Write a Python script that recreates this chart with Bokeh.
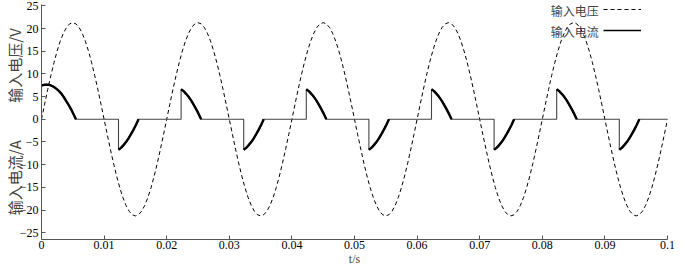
import math
from bokeh.plotting import figure
from bokeh.models import Range1d, FixedTicker, Label, Legend, LegendItem
from bokeh.embed import file_html
from bokeh.resources import INLINE

# ---------------- data ----------------
# input voltage: one period (0.02 s) sampled every 0.5 ms, repeated for 5 periods
volt_step = 0.0005
volt_cycle = [0, 3.33, 6.58, 9.67, 12.52, 15.06, 17.23, 18.98, 20.26, 21.04,
              21.3, 21.04, 20.26, 18.98, 17.23, 15.06, 12.52, 9.67, 6.58, 3.33,
              0, -3.33, -6.58, -9.67, -12.52, -15.06, -17.23, -18.98, -20.26, -21.04,
              -21.3, -21.04, -20.26, -18.98, -17.23, -15.06, -12.52, -9.67, -6.58, -3.33]
n_cycles = 5

# input current: first pulse (starts at t=0)
first_pulse_t = [0, 0, 0.0004, 0.0008, 0.0012, 0.0016, 0.002, 0.0024, 0.0028,
                 0.0032, 0.0036, 0.004, 0.0044, 0.0048, 0.0052, 0.0055]
first_pulse_i = [0, 7.45, 7.6, 7.65, 7.6, 7.4, 7.1, 6.7, 6.2,
                 5.6, 4.8, 3.9, 3.0, 2.0, 0.9, 0]
# following pulses: start time, peak value, and common decay shape
pulse_start = [0.0123, 0.0223, 0.0323, 0.0423, 0.0523, 0.0623, 0.0723, 0.0823, 0.0923]
pulse_peak = [-6.7, 6.6, -6.7, 6.6, -6.7, 6.6, -6.7, 6.6, -6.7]
pulse_dt = [0, 0.0004, 0.0008, 0.0012, 0.0016, 0.002, 0.0024, 0.0028, 0.0032]
pulse_frac = [1.0, 0.94, 0.85, 0.75, 0.63, 0.49, 0.34, 0.18, 0.0]
t_end = 0.1

x_ticks = [0, 0.01, 0.02, 0.03, 0.04, 0.05, 0.06, 0.07, 0.08, 0.09, 0.1]
x_tick_labels = ["0", "0.01", "0.02", "0.03", "0.04", "0.05", "0.06", "0.07", "0.08", "0.09", "0.1"]
y_ticks = [-25, -20, -15, -10, -5, 0, 5, 10, 15, 20, 25]
y_tick_labels = ["\u221225", "\u221220", "\u221215", "\u221210", "\u22125", "0", "5", "10", "15", "20", "25"]

legend_labels = ["输入电压", "输入电流"]
y_label_top = "输入电压/V"
y_label_bottom = "输入电流/A"
x_label = "t/s"

# ---------------- build series ----------------
volt_vals = volt_cycle * n_cycles + [volt_cycle[0]]
volt_t = [k * volt_step for k in range(len(volt_vals))]

cur_t = list(first_pulse_t)
cur_i = list(first_pulse_i)
thick_t = list(first_pulse_t[1:]) + [float("nan")]
thick_i = list(first_pulse_i[1:]) + [float("nan")]
for s, pk in zip(pulse_start, pulse_peak):
    cur_t.append(s)
    cur_i.append(0)
    for dt, f in zip(pulse_dt, pulse_frac):
        cur_t.append(s + dt)
        cur_i.append(pk * f)
        thick_t.append(s + dt)
        thick_i.append(pk * f)
    thick_t.append(float("nan"))
    thick_i.append(float("nan"))
cur_t.append(t_end)
cur_i.append(0)

# ---------------- figure ----------------
p = figure(width=700, height=268, output_backend="svg", toolbar_location=None,
           x_range=Range1d(0, 0.1), y_range=Range1d(-26.5, 25.3),
           min_border_left=41, min_border_right=33, min_border_top=4, min_border_bottom=28)
p.outline_line_color = None
p.xgrid.visible = False
p.ygrid.visible = False
p.background_fill_color = "white"
p.border_fill_color = "white"

r_v = p.line(volt_t, volt_vals, line_color="black", line_width=1, line_dash="4 3")
# legend sample for the current (drawn underneath the thick pulses)
leg_i = p.line(thick_t, thick_i, line_color="black", line_width=1.6)
r_i = p.line(cur_t, cur_i, line_color="#444444", line_width=1.1)
r_it = p.line(thick_t, thick_i, line_color="black", line_width=2.4)

for ax in (p.xaxis[0], p.yaxis[0]):
    ax.axis_line_color = "#555555"
    ax.major_tick_line_color = "#555555"
    ax.minor_tick_line_color = None
    ax.major_tick_in = 4
    ax.major_tick_out = 0
    ax.major_label_text_font = "Liberation Serif"
    ax.major_label_text_font_size = "12px"
    ax.major_label_text_color = "black"

p.xaxis.ticker = FixedTicker(ticks=x_ticks)
p.xaxis.major_label_overrides = {k: v for k, v in zip(x_ticks, x_tick_labels)}
p.xaxis.major_label_standoff = 1
p.xaxis.axis_label = x_label
p.xaxis.axis_label_standoff = 0
p.xaxis.axis_label_text_font = "Liberation Serif"
p.xaxis.axis_label_text_font_style = "normal"
p.xaxis.axis_label_text_font_size = "12px"

p.yaxis.ticker = FixedTicker(ticks=y_ticks)
p.yaxis.major_label_overrides = {k: v for k, v in zip(y_ticks, y_tick_labels)}
p.yaxis.major_label_standoff = 3
p.yaxis.axis_label = y_label_bottom + "\u3000\u3000\u2002" + y_label_top
p.yaxis.axis_label_standoff = -8
p.yaxis.axis_label_text_font = "Noto Sans CJK SC"
p.yaxis.axis_label_text_font_style = "normal"
p.yaxis.axis_label_text_font_size = "15px"

legend = Legend(items=[LegendItem(label=" ", renderers=[r_v]),
                       LegendItem(label=" ", renderers=[leg_i])],
                location=(562, 202), glyph_width=38, glyph_height=14,
                label_height=14, label_width=1, label_standoff=0,
                padding=0, spacing=7, margin=0,
                background_fill_alpha=0, border_line_color=None,
                label_text_font_size="6px")
p.add_layout(legend)

cjk = "Noto Sans CJK SC"
p.add_layout(Label(x=0.0890, y=23.9, text=legend_labels[0], text_font=cjk,
                   text_font_size="12px", text_align="right", text_baseline="middle"))
p.add_layout(Label(x=0.0890, y=19.3, text=legend_labels[1], text_font=cjk,
                   text_font_size="12px", text_align="right", text_baseline="middle"))

open("out.html", "w").write(file_html(p, INLINE))
